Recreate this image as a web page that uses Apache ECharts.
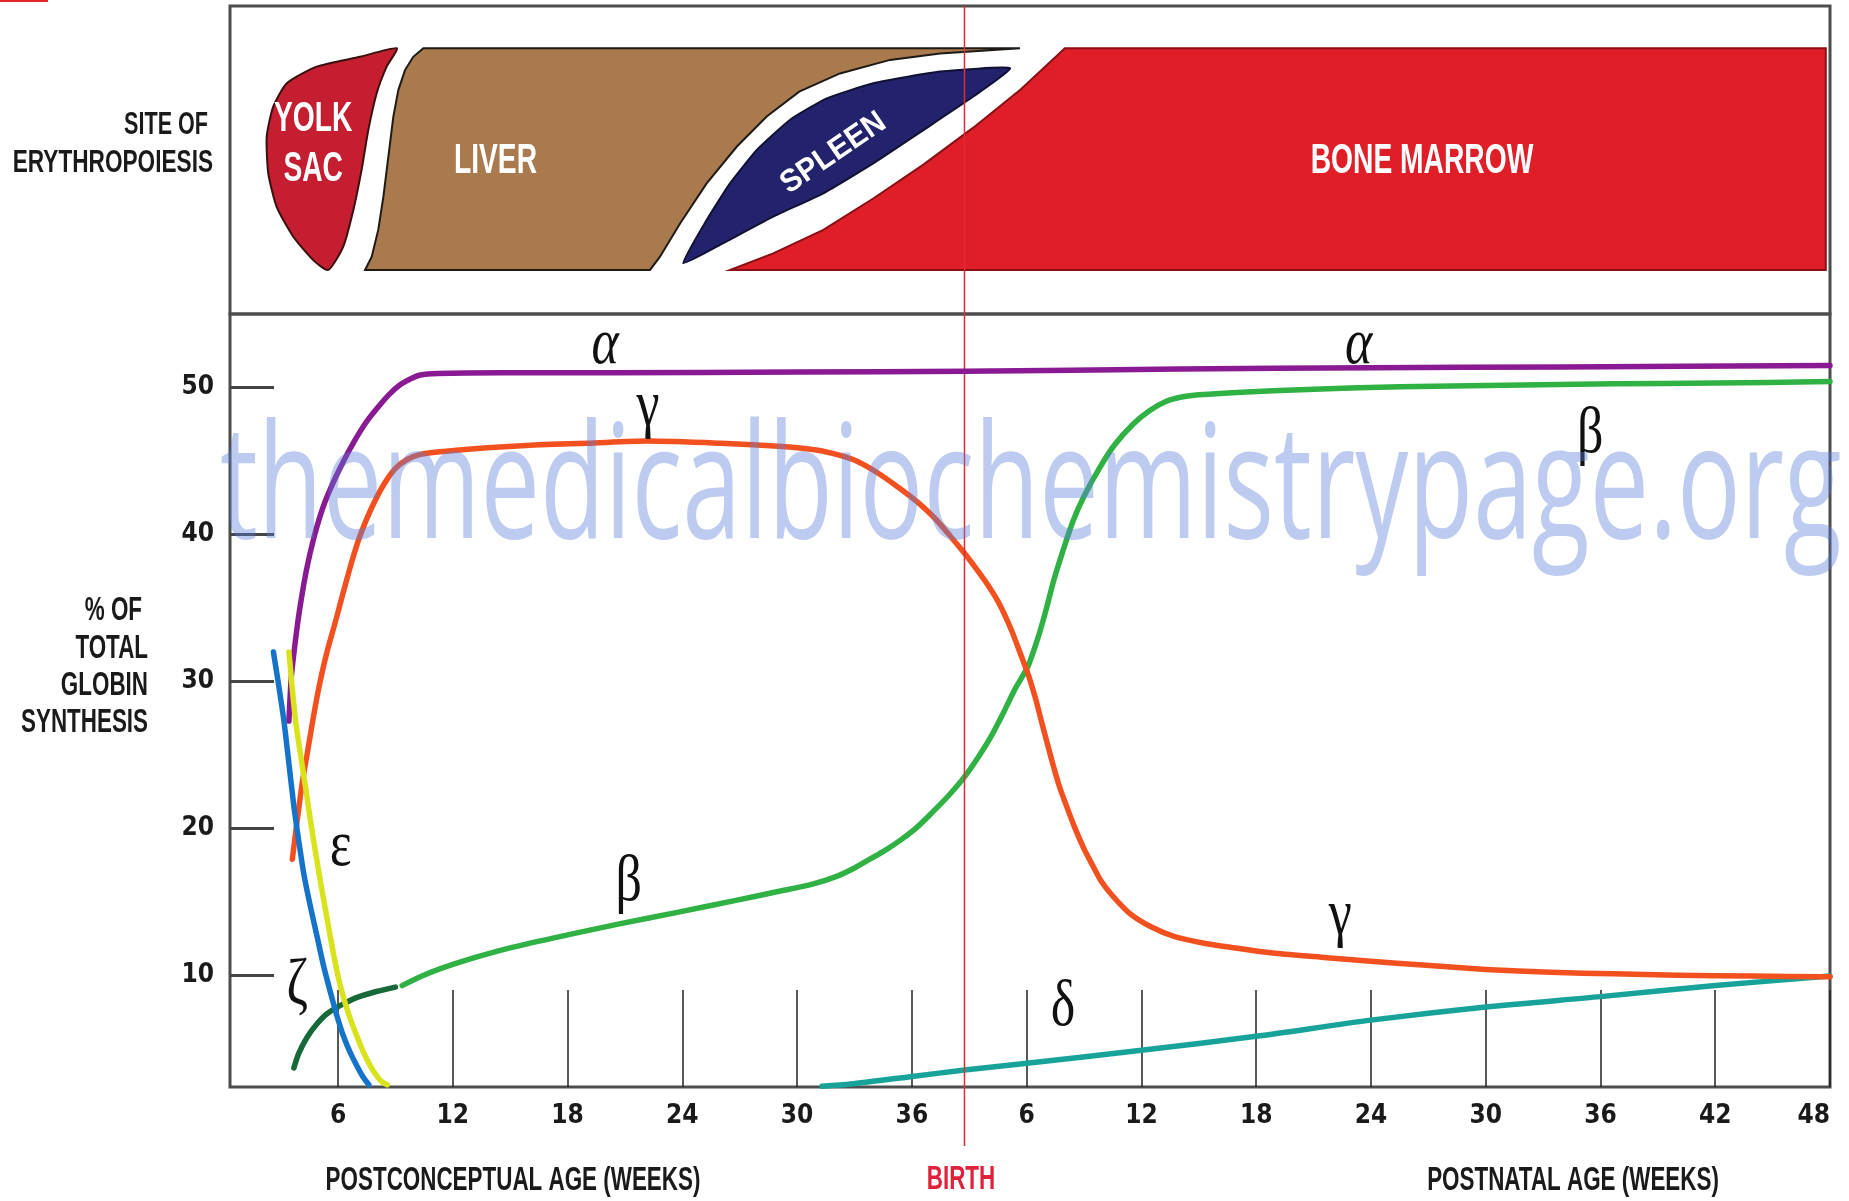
<!DOCTYPE html>
<html><head><meta charset="utf-8">
<script src="https://cdn.jsdelivr.net/npm/echarts@6/dist/echarts.min.js"></script>
<style>html,body{margin:0;padding:0;background:#fff}#c{width:1849px;height:1201px}</style>
</head><body><div id="c"></div>
<script>
// ---------- axis set-up (continuous week scale: postnatal week w = 36 + w) ----------
const X_MIN = 0.35, X_MAX = 84, Y_MIN = 2.4, Y_MAX = 55;
const xTickPositions = [6,12,18,24,30,36,42,48,54,60,66,72,78,84];
const xTickLabels = ['6','12','18','24','30','36','6','12','18','24','30','36','42','48'];
const yTickValues = [10,20,30,40,50];
const birthWeek = 38.75;

// ---------- globin chain curves [week, % of total globin synthesis] ----------
const alpha = [[3.43,27.3],[3.55,30.2],[3.69,31.9],[3.85,33.6],[4.04,35.3],[4.35,37.6],[4.74,39.8],[5.2,41.8],[5.7,43.4],[6.25,44.9],[6.83,46.3],[7.45,47.6],[8.05,48.6],[8.65,49.5],[9.26,50.2],[9.8,50.6],[10.3,50.85],[11.2,50.95],[14.5,51.0],[20,51.0],[30,51.05],[38.75,51.1],[50,51.25],[60,51.35],[70,51.4],[84,51.5]];
const gamma = [[3.61,17.9],[3.78,19.7],[3.95,21.4],[4.15,23.3],[4.39,25.1],[4.7,27.5],[5.0,29.6],[5.4,31.9],[5.87,34.1],[6.3,36.2],[6.75,38.3],[7.17,40.0],[7.75,41.8],[8.39,43.4],[9.0,44.5],[9.61,45.1],[10.3,45.45],[11.5,45.65],[13.8,45.9],[16.5,46.1],[19,46.2],[22.2,46.35],[26,46.2],[29,46.0],[31,45.75],[32.2,45.4],[33.1,45.0],[34.2,44.2],[35.3,43.2],[36.3,42.2],[37.2,41.1],[38.0,39.9],[38.7,38.8],[39.4,37.6],[40.0,36.5],[40.6,35.2],[41.2,33.5],[41.7,31.8],[42.1,30.4],[42.45,28.9],[42.75,27.4],[43.3,24.7],[43.7,22.9],[44.06,21.6],[44.5,20.1],[45.0,18.6],[45.4,17.6],[45.9,16.4],[46.5,15.4],[47.4,14.2],[48.5,13.3],[49.7,12.65],[51.2,12.2],[52.7,11.9],[55,11.5],[57.7,11.2],[60,10.95],[62.7,10.7],[66,10.4],[69.4,10.2],[72.7,10.1],[76,10.0],[80,9.95],[84,9.9]];
const betaEarly = [[3.69,3.7],[3.95,4.7],[4.39,5.8],[4.9,6.7],[5.44,7.4],[6.2,8.0],[7.0,8.5],[8.0,8.9],[9.0,9.2]];
const beta = [[9.35,9.3],[10.3,9.9],[11.35,10.45],[13,11.15],[15.1,11.9],[18,12.75],[20.7,13.5],[23.8,14.3],[26.8,15.1],[29,15.7],[30.8,16.2],[32.1,16.75],[33.0,17.3],[33.8,17.9],[34.6,18.5],[35.4,19.2],[36.2,20.0],[37.0,21.0],[37.9,22.2],[38.75,23.5],[39.5,24.9],[40.2,26.4],[40.8,27.9],[41.4,29.5],[42.06,31.0],[42.6,33.0],[43.0,34.8],[43.4,36.8],[43.9,38.9],[44.42,40.9],[45.0,42.6],[45.8,44.5],[46.6,46.1],[47.56,47.5],[48.4,48.4],[49.3,49.06],[50.1,49.35],[51.0,49.5],[53.5,49.7],[56.3,49.85],[61.5,50.05],[67,50.15],[72.7,50.25],[78,50.3],[84,50.4]];
const delta = [[31.3,2.45],[32.8,2.6],[35.9,3.1],[38.75,3.55],[41.9,4.0],[48,4.9],[54,5.85],[60,6.95],[66,7.85],[72,8.55],[78,9.3],[84,9.95]];
const zeta = [[2.62,32.0],[2.9,29.7],[3.17,27.3],[3.43,24.4],[3.69,21.5],[3.95,19.1],[4.21,16.9],[4.55,14.7],[4.91,12.6],[5.25,10.6],[5.61,8.8],[5.95,7.2],[6.3,5.8],[6.65,4.7],[7.0,3.8],[7.3,3.1],[7.61,2.55]];
const epsilon = [[3.43,32.0],[3.6,29.6],[3.78,27.3],[4.04,25.0],[4.3,22.8],[4.56,20.5],[4.83,18.3],[5.13,16.0],[5.44,13.75],[5.74,11.6],[6.04,9.7],[6.35,8.2],[6.65,7.0],[7.0,5.8],[7.35,4.7],[7.7,3.8],[8.05,3.1],[8.3,2.75],[8.57,2.55]];

// ---------- curve labels ----------
const greekText = ['α','α','γ','β','ε','ζ','β','γ','δ'];
const greekX = [19.96, 59.36, 22.2, 71.46, 6.13, 3.87, 21.2, 58.4, 43.9];
const greekY = [52.8, 52.8, 48.6, 46.8, 18.7, 9.2, 16.3, 14.0, 7.76];

// ---------- site of erythropoiesis outlines [week, level 0-100 of the top panel] ----------
const yolkSac = [[9.07,86.3],[7.15,83.5],[4.88,80.3],[3.32,74.9],[2.61,67.3],[2.27,57.6],[2.35,45.7],[2.79,34.8],[3.66,25.1],[4.7,17.5],[5.49,14.3],[6.27,21.9],[6.8,33.8],[7.23,46.8],[7.58,59.7],[8.02,71.7],[8.54,80.3]];
const liver = [[10.46,86.3],[9.93,83.5],[9.5,79.2],[9.15,72.7],[8.89,64.1],[8.63,51.1],[8.37,38.1],[8.10,27.3],[7.76,18.6],[7.41,14.3],[22.31,14.3],[22.83,18.6],[23.88,29.4],[25.27,42.4],[26.84,54.3],[28.41,64.1],[30.11,72.2],[32.24,78.1],[34.86,82.5],[37.47,84.6],[41.65,86.3]];
const spleen = [[24.05,16.5],[25.27,30.5],[26.49,42.4],[27.88,53.2],[29.62,63.0],[31.55,70.0],[33.98,74.9],[37.47,78.7],[41.13,79.8],[39.21,70.6],[36.6,59.7],[33.98,48.9],[31.37,39.2],[28.75,31.6],[26.14,23.0]];
const boneMarrow = [[44.0,86.3],[83.78,86.3],[83.78,14.3],[26.49,14.3],[28.75,19.7],[31.37,27.3],[33.98,37.5],[36.6,48.5],[39.21,60.5],[41.7,73.0]];
const siteText = ['YOLK','SAC','LIVER','SPLEEN','BONE MARROW'];
const siteX = [4.7, 4.7, 14.23, 31.9, 62.67];
const siteY = [63.0, 46.8, 49.4, 52.2, 49.4];

// ---------- rendering ----------
const SANS = '"Liberation Sans", Arial, sans-serif';
const COND = '"DejaVu Sans Condensed", "Liberation Sans", sans-serif';
const INK = '#1a1a1a';

function shapeSeries(name, pts, fill, stroke, smooth) {
  return {
    type: 'custom', name, xAxisIndex: 1, yAxisIndex: 1, data: [pts[0]], silent: true, z: 2,
    renderItem: (params, api) => ({
      type: 'polygon',
      shape: { points: pts.map(p => api.coord(p)), smooth: smooth },
      style: { fill: fill, stroke: stroke, lineWidth: 2 }
    })
  };
}
function curve(name, data, color, z) {
  return {
    type: 'line', name, data, smooth: 0.25, showSymbol: false, silent: true, z: z,
    lineStyle: { color: color, width: 5.5, cap: 'round', join: 'round' }
  };
}
function txt(text, x, y, align, color, size, sx) {
  return {
    type: 'text', x, y, scaleX: sx || 0.83, scaleY: 1.2, z: 50,
    style: { text, fill: color || INK, font: 'bold ' + (size || 26) + 'px ' + SANS, align, verticalAlign: 'middle' }
  };
}

const chart = echarts.init(document.getElementById('c'), null, { renderer: 'canvas' });
chart.setOption({
  animation: false,
  backgroundColor: '#ffffff',
  grid: [
    { left: 230, right: 19, top: 314, bottom: 114, show: true, borderColor: '#4d4d4d', borderWidth: 3 },
    { left: 230, right: 19, top: 6, height: 308, show: true, borderColor: '#4d4d4d', borderWidth: 3 }
  ],
  xAxis: [
    {
      gridIndex: 0, type: 'value', min: X_MIN, max: X_MAX,
      axisLine: { show: false }, splitLine: { show: false },
      axisTick: { show: true, inside: true, length: 97, customValues: xTickPositions, lineStyle: { color: '#222', width: 1.5 } },
      axisLabel: {
        customValues: xTickPositions, margin: 16, alignMaxLabel: 'right',
        formatter: v => xTickLabels[xTickPositions.indexOf(v)],
        fontSize: 26, fontWeight: 'bold', fontFamily: COND, color: INK
      }
    },
    { gridIndex: 1, type: 'value', min: X_MIN, max: X_MAX, show: false }
  ],
  yAxis: [
    {
      gridIndex: 0, type: 'value', min: Y_MIN, max: Y_MAX,
      axisLine: { show: false }, splitLine: { show: false },
      axisTick: { show: true, inside: true, length: 44, customValues: yTickValues, lineStyle: { color: '#444', width: 3 } },
      axisLabel: { customValues: yTickValues, margin: 16, fontSize: 26, fontWeight: 'bold', fontFamily: COND, color: INK }
    },
    { gridIndex: 1, type: 'value', min: 0, max: 100, show: false }
  ],
  series: [
    shapeSeries('Yolk sac', yolkSac, '#c41e30', '#3a1010', 0.2),
    shapeSeries('Liver', liver, '#a97a4d', '#1e1a16', 0),
    shapeSeries('Spleen', spleen, '#23226c', '#111133', 0.15),
    shapeSeries('Bone marrow', boneMarrow, '#e01e28', '#8a0f14', 0),
    {
      type: 'custom', name: 'siteLabels', xAxisIndex: 1, yAxisIndex: 1, silent: true, z: 5,
      data: siteX.map((x, i) => [x, siteY[i], i]),
      renderItem: (params, api) => {
        const p = api.coord([api.value(0), api.value(1)]);
        const t = siteText[api.value(2)];
        const sp = t === 'SPLEEN';
        return {
          type: 'text', x: p[0], y: p[1], scaleX: sp ? 1 : 0.83, scaleY: sp ? 1.05 : 1.23,
          rotation: sp ? 0.60 : 0,
          style: { text: t, fill: '#ffffff', font: 'bold ' + (sp ? 30 : 34) + 'px ' + SANS, align: 'center', verticalAlign: 'middle' }
        };
      }
    },
    {
      type: 'custom', name: 'birthTop', xAxisIndex: 1, yAxisIndex: 1, silent: true, z: 6,
      data: [[birthWeek, 50]],
      renderItem: (params, api) => {
        const a = api.coord([birthWeek, 100]), b = api.coord([birthWeek, 0]);
        return { type: 'line', shape: { x1: a[0], y1: a[1], x2: b[0], y2: b[1] }, style: { stroke: '#e5283a', lineWidth: 1.5 } };
      }
    },
    {
      type: 'custom', name: 'birth', xAxisIndex: 0, yAxisIndex: 0, silent: true, z: 6, clip: false,
      data: [[birthWeek, 30]],
      renderItem: (params, api) => {
        const a = api.coord([birthWeek, Y_MAX]), b = api.coord([birthWeek, Y_MIN]);
        return { type: 'line', shape: { x1: a[0], y1: a[1], x2: b[0], y2: b[1] + 59 }, style: { stroke: '#e5283a', lineWidth: 1.5 } };
      }
    },
    curve('δ', delta, '#17a399', 3),
    curve('β', beta, '#2fb243', 4),
    curve('β early', betaEarly, '#17693a', 4),
    curve('γ', gamma, '#f2511f', 5),
    curve('α', alpha, '#8a1a93', 6),
    curve('ζ', zeta, '#1573c9', 7),
    curve('ε', epsilon, '#d9e31c', 8),
    {
      type: 'custom', name: 'greek', xAxisIndex: 0, yAxisIndex: 0, silent: true, z: 9, clip: false,
      data: greekX.map((x, i) => [x, greekY[i], i]),
      renderItem: (params, api) => {
        const p = api.coord([api.value(0), api.value(1)]);
        const t = greekText[api.value(2)];
        return {
          type: 'text', x: p[0], y: p[1], scaleY: 1.25,
          style: { text: t, fill: '#111', font: (t === 'α' ? 'italic ' : '') + '52px "Liberation Serif", "DejaVu Serif", serif', align: 'center', verticalAlign: 'middle' }
        };
      }
    }
  ],
  graphic: [
    { type: 'rect', shape: { x: 0, y: 0, width: 48, height: 2 }, style: { fill: '#e3262b' } },
    txt('SITE OF', 208, 125, 'right'),
    txt('ERYTHROPOIESIS', 213, 163, 'right', INK, 26, 0.87),
    txt('% OF', 142, 611, 'right', INK, 27),
    txt('TOTAL', 148, 649, 'right', INK, 27),
    txt('GLOBIN', 148, 686, 'right', INK, 27),
    txt('SYNTHESIS', 148, 723, 'right', INK, 27),
    txt('POSTCONCEPTUAL AGE (WEEKS)', 513, 1181, 'center', INK, 27),
    txt('BIRTH', 961, 1180, 'center', '#e0213a', 27),
    txt('POSTNATAL AGE (WEEKS)', 1573, 1181, 'center', INK, 27),
    {
      type: 'text', x: 220, y: 493, scaleY: 1.5, z: 100,
      style: { text: 'themedicalbiochemistrypage.org', fill: 'rgba(90,125,220,0.40)', font: '106px "Open Sans", "Noto Sans", sans-serif', align: 'left', verticalAlign: 'middle' }
    }
  ]
});
</script></body></html>
